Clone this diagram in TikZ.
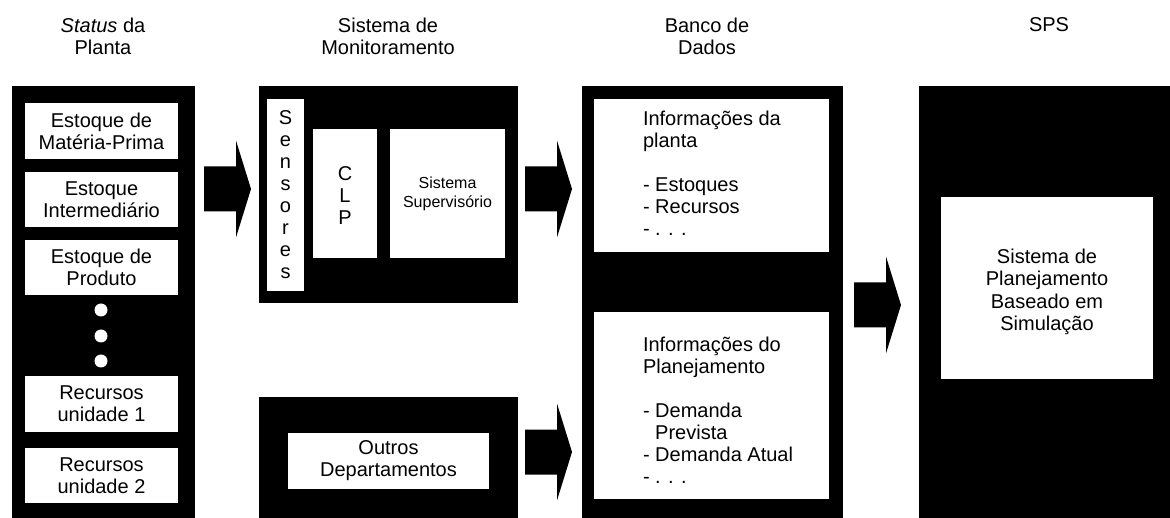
\documentclass[tikz,border=0pt]{standalone}
\usepackage{fontspec}
\setmainfont{Liberation Sans}
\begin{document}
\begin{tikzpicture}[x=1pt,y=-1pt,
  panel/.style={fill=black, draw=none, inner sep=0pt, outer sep=0pt, anchor=north west},
  wbox/.style={fill=white, draw=none, inner sep=0pt, outer sep=0pt, anchor=north west,
    align=center, font=\fontsize{20}{22}\selectfont},
  txt/.style={inner sep=0pt, outer sep=0pt, font=\fontsize{20}{22}\selectfont},
  head/.style={txt, align=center},
  dot/.style={circle, fill=white, draw=none, inner sep=0pt, minimum size=13pt},
  blockarrow/.pic={\fill (0,-22.5) -- (32,-22.5) -- (32,-48.5) -- (47,0) -- (32,48.5) -- (32,22.5) -- (0,22.5) -- cycle;}
]
\useasboundingbox (0,0) rectangle (1170,518);

% headings
\node[head] (h1) at (103,36) {\textit{Status} da\\Planta};
\node[head] (h2) at (388,36) {Sistema de\\Monitoramento};
\node[head] (h3) at (707,36) {Banco de\\Dados};
\node[head] (h4) at (1049,25) {SPS};

% status panel
\node[panel, minimum width=183pt, minimum height=432pt] (status) at (12,86) {};
\node[wbox, minimum width=153pt, minimum height=56pt] (b1) at (25,103) {Estoque de\\Matéria-Prima};
\node[wbox, minimum width=153pt, minimum height=55pt] (b2) at (25,172) {Estoque\\Intermediário};
\node[wbox, minimum width=153pt, minimum height=55pt] (b3) at (25,240) {Estoque de\\Produto};
\node[dot] (d1) at (101,310) {};
\node[dot] (d2) at (101,336) {};
\node[dot] (d3) at (101,361) {};
\node[wbox, minimum width=153pt, minimum height=56pt] (b4) at (25,376) {Recursos\\unidade 1};
\node[wbox, minimum width=153pt, minimum height=55pt] (b5) at (25,448) {Recursos\\unidade 2};

% monitoring
\node[panel, minimum width=259pt, minimum height=217pt] (mon) at (259,86) {};
\node[wbox, minimum width=37pt, minimum height=192pt] (sens) at (267,99) {S\\e\\n\\s\\o\\r\\e\\s};
\node[wbox, minimum width=64pt, minimum height=129pt] (clp) at (313,129) {};
\node[txt, align=center] (clpt) at (345,196) {C\\L\\P};
\node[wbox, minimum width=115pt, minimum height=129pt, font=\fontsize{16}{19}\selectfont] (sup) at (390,129) {Sistema\\Supervisório};

\node[panel, minimum width=259pt, minimum height=121pt] (oth) at (259,397) {};
\node[wbox, minimum width=201pt, minimum height=56pt] (outros) at (288,433) {Outros\\Departamentos};

% database
\node[panel, minimum width=261pt, minimum height=432pt] (db) at (582,86) {};
\node[wbox, minimum width=235pt, minimum height=153pt] (info1) at (594,99) {};
\node[wbox, minimum width=235pt, minimum height=187pt] (info2) at (594,312) {};
\node[txt, align=left, anchor=north west] (t1) at (643,111)
  {Informações da\\planta\\[22pt]- Estoques\\- Recursos\\- . . .};
\node[txt, align=left, anchor=north west] (t2) at (643,337)
  {Informações do\\Planejamento\\[22pt]- Demanda\\\phantom{- }Prevista\\- Demanda Atual\\- . . .};

% SPS
\node[panel, minimum width=251pt, minimum height=432pt] (sps) at (919,86) {};
\node[wbox, minimum width=212pt, minimum height=182pt] (sim) at (941,197) {};
\node[txt, align=center, font=\fontsize{20}{22.5}\selectfont] (simt) at (1047,292) {Sistema de\\Planejamento\\Baseado em\\Simulação};

% block arrows
\pic (a1) at (204,189) {blockarrow};
\pic (a2) at (525,189) {blockarrow};
\pic (a3) at (525,452) {blockarrow};
\pic (a4) at (854,305) {blockarrow};
\end{tikzpicture}
\end{document}
